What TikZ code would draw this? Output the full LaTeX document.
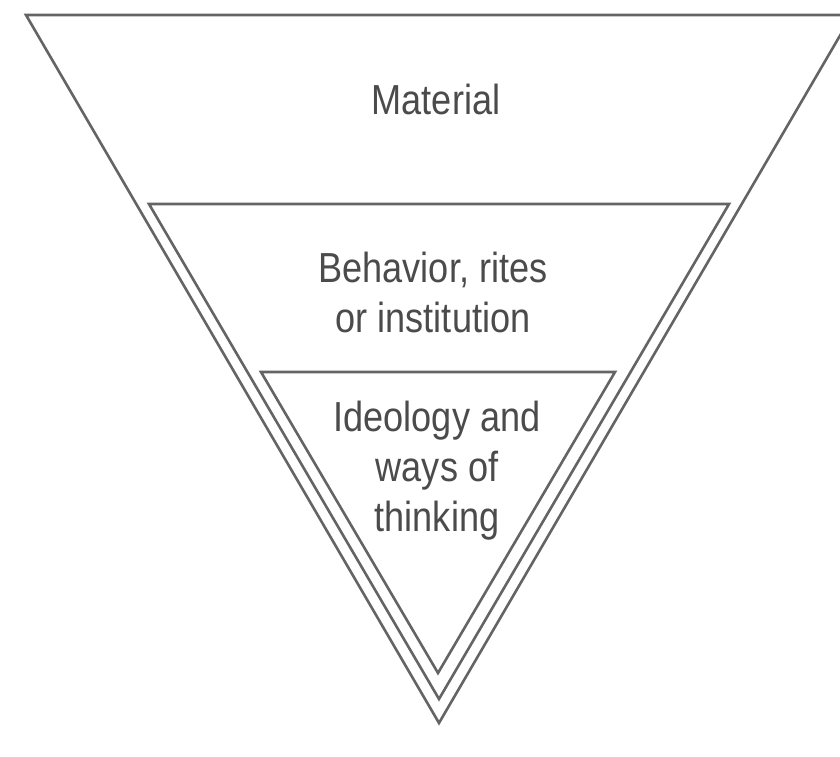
\documentclass[tikz,border=0pt]{standalone}
\usepackage{fontspec}
\setmainfont{Liberation Sans}[FakeStretch=0.86]
\definecolor{linegray}{RGB}{100,100,100}
\definecolor{textgray}{RGB}{75,75,75}
\begin{document}
\begin{tikzpicture}[x=1pt,y=-1pt,
  tri/.style={draw=linegray,line width=2.6pt,line join=miter},
  lbl/.style={text=textgray,font=\fontsize{42}{50}\selectfont,align=center,inner sep=0pt}]
\useasboundingbox (0,0) rectangle (840,756);
\fill[white] (0,0) rectangle (840,756);
\begin{scope}
\clip (0,0) rectangle (840,756);
\draw[tri] (26,15) -- (852,15) -- (439,723) -- cycle;
\end{scope}
\draw[tri] (149,204) -- (729,204) -- (439,699) -- cycle;
\draw[tri] (261,372) -- (615,372) -- (438,673) -- cycle;
\node[lbl,anchor=base] (material) at (436,114) {Material};
\node[lbl] (behavior) at (433,292) {Behavior, rites\\or institution};
\node[lbl] (ideology) at (437,471) {Ideology and\\ways of\\thinking};
\end{tikzpicture}
\end{document}
